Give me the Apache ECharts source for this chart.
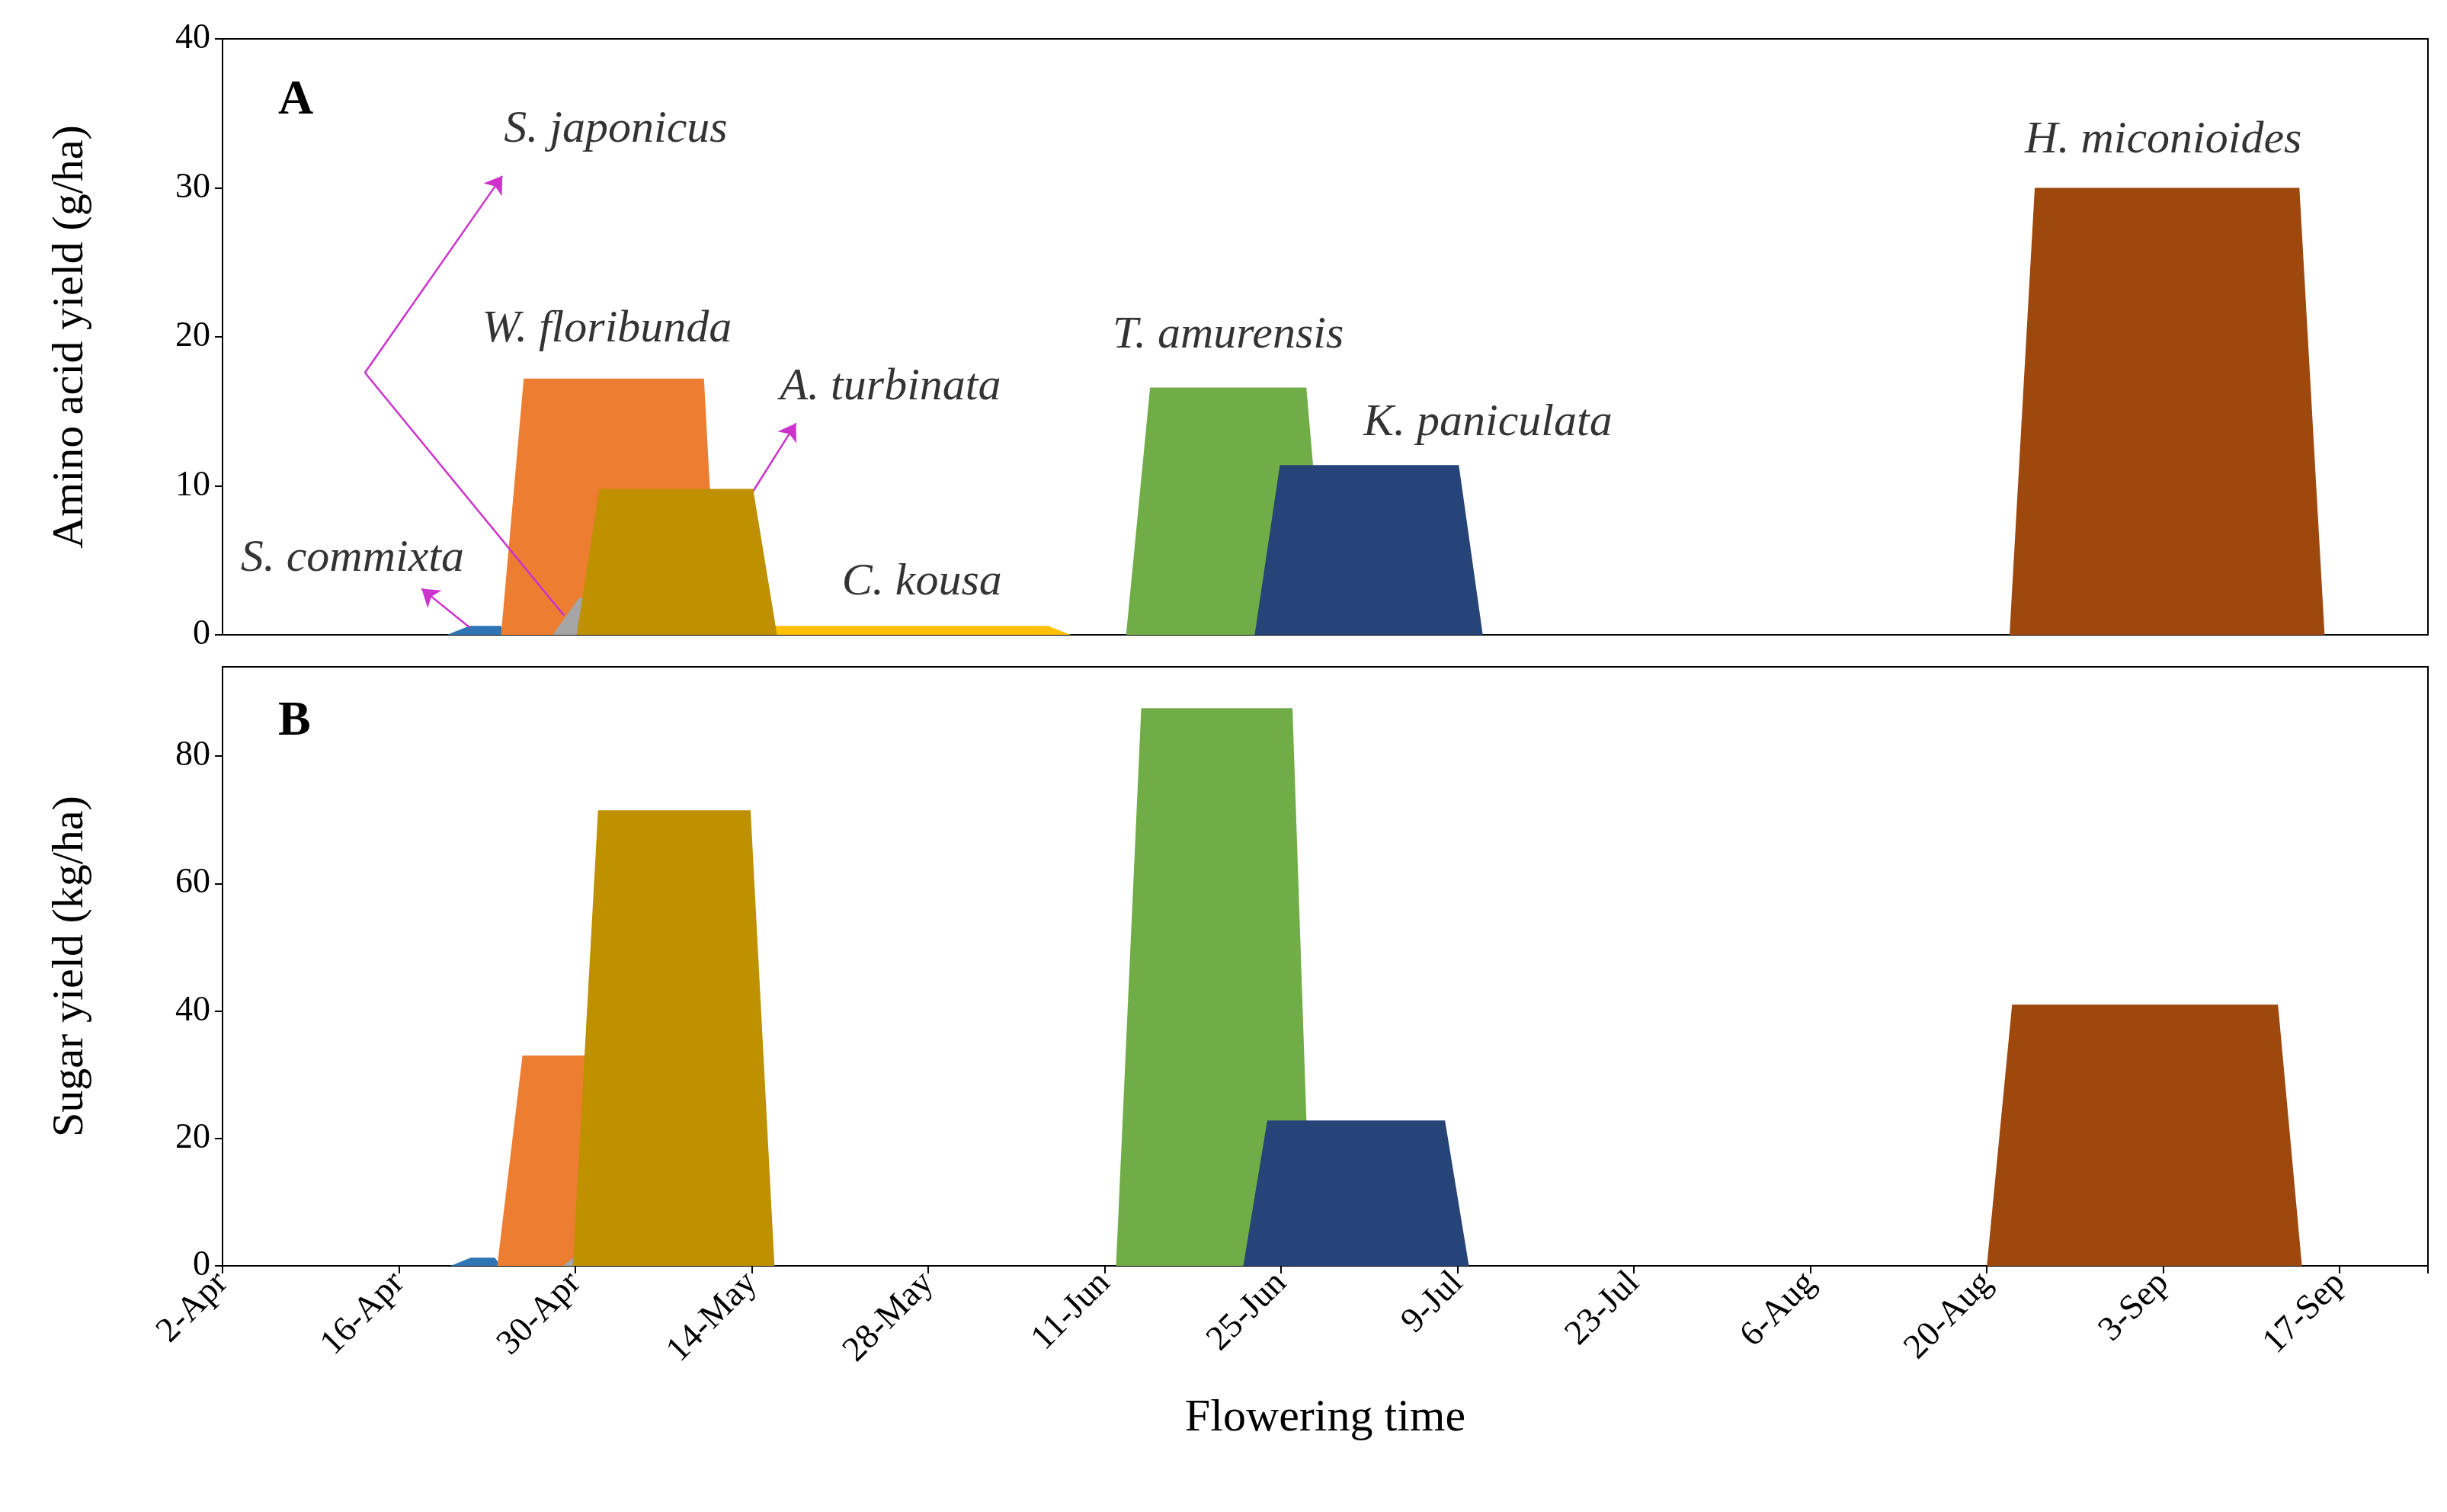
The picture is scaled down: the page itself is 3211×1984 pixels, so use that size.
<!DOCTYPE html>
<html><head><meta charset="utf-8">
<script src="https://cdn.jsdelivr.net/npm/echarts@6/dist/echarts.min.js"></script>
<style>html,body{margin:0;padding:0;background:#fff}#c{width:3211px;height:1984px}</style>
</head><body><div id="c"></div>
<script>
// x values are days after 2-Apr
const tickLabels = ['2-Apr','16-Apr','30-Apr','14-May','28-May','11-Jun','25-Jun','9-Jul','23-Jul','6-Aug','20-Aug','3-Sep','17-Sep'];
const species = ['S. commixta','W. floribunda','S. japonicus','C. kousa','A. turbinata','T. amurensis','K. paniculata','H. miconioides'];
const colors = ['#2e75b6','#ed7d31','#a5a5a5','#ffc000','#bf9000','#70ad47','#264478','#9e480e'];
// amino acid yield (g/ha): [day, value]
const aminoCommixta = [[17.8,0],[19.6,0.6],[22.1,0.6],[22.4,0]];
const aminoFloribunda = [[22.1,0],[23.9,17.2],[38.2,17.2],[39.3,0]];
const aminoJaponicus = [[26.2,0],[28.3,2.5],[30.0,2.5],[31.0,0]];
const aminoKousa = [[36.2,0],[38.3,0.6],[65.5,0.6],[67.3,0]];
const aminoTurbinata = [[28.1,0],[29.9,9.8],[42.1,9.8],[44.0,0]];
const aminoAmurensis = [[71.7,0],[73.6,16.6],[86.0,16.6],[87.7,0]];
const aminoPaniculata = [[81.9,0],[83.9,11.4],[98.1,11.4],[100.0,0]];
const aminoMiconioides = [[141.8,0],[143.8,30],[164.8,30],[166.8,0]];
// sugar yield (kg/ha)
const sugarCommixta = [[18.1,0],[19.7,1.3],[21.6,1.3],[22.1,0]];
const sugarFloribunda = [[21.8,0],[23.8,33],[29.0,33],[30.0,0]];
const sugarJaponicus = [[27.0,0],[28.3,2],[29.0,2],[29.5,0]];
const sugarKousa = [[36.2,0],[38.3,0],[65.5,0],[67.3,0]];
const sugarTurbinata = [[27.8,0],[29.8,71.5],[41.9,71.5],[43.8,0]];
const sugarAmurensis = [[70.9,0],[72.9,87.5],[84.9,87.5],[86.4,0]];
const sugarPaniculata = [[81.0,0],[82.9,22.8],[97.0,22.8],[98.9,0]];
const sugarMiconioides = [[140.0,0],[142.0,41],[163.1,41],[165.0,0]];
// annotation label positions (day, amino value)
const labelNames = ['S. japonicus','W. floribunda','A. turbinata','S. commixta','C. kousa','T. amurensis','K. paniculata','H. miconioides'];
const labelX = [31.2,30.5,53.0,10.3,55.5,79.8,100.4,154.0];
const labelY = [33.9,20.5,16.6,5.1,3.5,20.1,14.2,33.2];

const amino = [aminoCommixta,aminoFloribunda,aminoJaponicus,aminoKousa,aminoTurbinata,aminoAmurensis,aminoPaniculata,aminoMiconioides];
const sugar = [sugarCommixta,sugarFloribunda,sugarJaponicus,sugarKousa,sugarTurbinata,sugarAmurensis,sugarPaniculata,sugarMiconioides];

const font = 'Liberation Serif';
const chart = echarts.init(document.getElementById('c'));
function xAxis(i, showLabels){
  return {type:'value', gridIndex:i, min:0, max:175, interval:14,
    axisLine:{show:true,onZero:false,lineStyle:{color:'#000',width:2}},
    axisTick:{show:showLabels,length:10,lineStyle:{color:'#000',width:2}},
    axisLabel:{show:showLabels,rotate:45,fontFamily:font,fontSize:46,color:'#000',margin:16,
      formatter:v=>tickLabels[Math.round(v/14)]||''},
    splitLine:{show:false},
    name: showLabels?'Flowering time':'', nameLocation:'middle', nameGap:170,
    nameTextStyle:{fontFamily:font,fontSize:60,color:'#000'}};
}
function yAxis(i, max, interval, name){
  return {type:'value', gridIndex:i, min:0, max:max, interval:interval,
    axisLine:{show:true,lineStyle:{color:'#000',width:2}},
    axisTick:{show:true,length:10,lineStyle:{color:'#000',width:2}},
    axisLabel:{fontFamily:font,fontSize:46,color:'#000',margin:16,showMaxLabel:max===40},
    splitLine:{show:false}, name:name, nameLocation:'middle', nameGap:170,
    nameTextStyle:{fontFamily:font,fontSize:58,color:'#000'}};
}
const series = [];
function area(data, i, idx){
  return {type:'line', xAxisIndex:idx, yAxisIndex:idx, data:data, symbol:'none', silent:true,
    lineStyle:{width:0}, itemStyle:{color:colors[i]}, areaStyle:{color:colors[i],opacity:1}, animation:false, z:2+i};
}
amino.forEach((d,i)=>series.push(area(d,i,0)));
sugar.forEach((d,i)=>series.push(area(d,i,1)));
// arrows
series.push({type:'line', xAxisIndex:0, yAxisIndex:0, data:[], animation:false, z:20,
  markLine:{silent:true, animation:false, symbol:['none','arrow'], symbolSize:22,
    lineStyle:{color:'#cc33cc',width:2.5,type:'solid'}, label:{show:false},
    data:[
      [{coord:[27.1,1.3],symbol:'none'},{coord:[11.3,17.6],symbol:'none'}],
      [{coord:[11.3,17.6]},{coord:[22.2,30.8]}],
      [{coord:[19.6,0.5]},{coord:[15.8,3.1]}],
      [{coord:[42.0,9.5]},{coord:[45.5,14.2]}]
    ]}});
series.push({type:'scatter', xAxisIndex:0, yAxisIndex:0, symbolSize:0, silent:true, animation:false, z:21,
  data: labelNames.map((n,i)=>[labelX[i],labelY[i],n]),
  label:{show:true, position:'inside', formatter:p=>p.data[2], fontFamily:font, fontStyle:'italic', fontSize:60, color:'#000'}});

chart.setOption({
  backgroundColor:'#fff',
  grid:[
    {left:292,right:25,top:51,height:782,show:true,borderColor:'#000',borderWidth:2},
    {left:292,right:25,top:875,height:786,show:true,borderColor:'#000',borderWidth:2}
  ],
  xAxis:[xAxis(0,false), xAxis(1,true)],
  yAxis:[yAxis(0,40,10,'Amino acid yield (g/ha)'), yAxis(1,94,20,'Sugar yield (kg/ha)')],
  graphic:[
    {type:'text', left:365, top:100, style:{text:'A', font:'bold 64px "Liberation Serif"', fill:'#000'}},
    {type:'text', left:365, top:915, style:{text:'B', font:'bold 64px "Liberation Serif"', fill:'#000'}}
  ],
  series: series
});
</script></body></html>
